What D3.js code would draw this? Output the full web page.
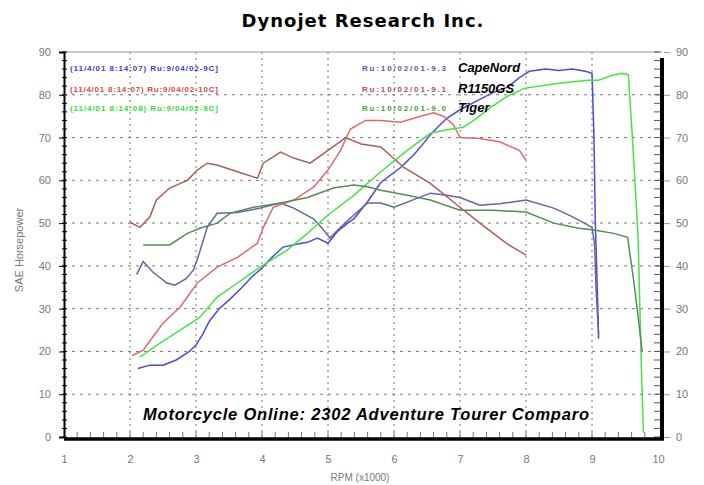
<!DOCTYPE html>
<html>
<head>
<meta charset="utf-8">
<script src="https://cdn.jsdelivr.net/npm/d3@7"></script>
<style>
  body { margin: 0; background: #fff; }
  svg { display: block; font-family: "Liberation Sans", Arial, sans-serif; }
</style>
</head>
<body>
<div class="display"></div>
<script>
// rpm (x1000) / value pairs
const caponordHp = [[2.12,16],[2.3,16.8],[2.5,16.8],[2.7,18],[2.9,20],[3.0,21.5],[3.1,24],[3.2,27],[3.35,30],[3.5,32],[3.7,35],[3.85,37.5],[4.0,39.5],[4.15,42],[4.32,44.4],[4.5,45],[4.69,45.5],[4.84,46.5],[5.0,45.3],[5.14,48],[5.3,50],[5.39,51],[5.6,55],[5.8,59.5],[6.1,63],[6.3,66],[6.45,68.7],[6.6,71.5],[6.8,74.5],[7.0,76.5],[7.27,78.7],[7.5,80.5],[7.72,81.8],[7.9,84],[8.05,85.5],[8.3,86],[8.5,85.7],[8.7,86],[8.9,85.5],[9.0,85],[9.03,70],[9.05,50],[9.08,35],[9.1,23]];
const caponordTq = [[2.1,38],[2.2,41],[2.35,38.5],[2.56,36],[2.68,35.5],[2.85,37],[2.96,39],[3.03,42],[3.1,45.5],[3.17,49],[3.32,52.3],[3.63,52.5],[3.97,53.5],[4.28,54.7],[4.48,53.5],[4.78,51],[4.9,49],[5.03,46.5],[5.19,49],[5.4,52],[5.6,54.7],[5.8,54.7],[6.0,53.7],[6.3,55.5],[6.55,57],[6.8,56.5],[7.0,56],[7.3,54.2],[7.6,54.5],[8.0,55.4],[8.42,53.5],[8.7,51.5],[9.0,49],[9.04,45],[9.06,35],[9.1,24]];
const gsHp = [[2.03,19],[2.2,20.3],[2.35,23.5],[2.5,26.6],[2.76,30.4],[3.02,36],[3.32,39.7],[3.63,42],[3.93,45.3],[4.02,49],[4.17,53.7],[4.48,55.4],[4.78,58.4],[5.0,62.4],[5.19,67],[5.34,72],[5.57,74],[5.8,74],[6.1,73.6],[6.4,75],[6.6,75.8],[6.75,75],[6.9,73],[7.0,70],[7.3,69.8],[7.6,69],[7.9,67],[8.0,64.7]];
const gsTq = [[2.0,50.2],[2.15,49],[2.3,51.4],[2.4,55.4],[2.6,58.2],[2.87,60],[3.02,62.4],[3.17,64],[3.32,63.6],[3.63,62],[3.93,60.5],[4.02,64],[4.28,66.6],[4.48,65.2],[4.73,64],[5.0,67],[5.27,70],[5.5,68.5],[5.8,67.8],[6.15,63],[6.55,59.3],[7.0,53.7],[7.3,50],[7.7,45.3],[8.0,42.5]];
const tigerHp = [[2.15,18.7],[2.46,22],[2.76,25],[3.06,28],[3.32,32.7],[3.63,36],[3.97,39.7],[4.38,43.7],[4.69,47.6],[5.0,51.9],[5.39,56.5],[5.8,62],[6.2,67],[6.55,71],[6.8,71.8],[7.05,72.4],[7.25,74.5],[7.46,77],[7.7,79.5],[7.97,81.5],[8.5,82.7],[8.94,83.4],[9.1,83.4],[9.3,84.5],[9.45,85],[9.55,84.7],[9.6,73],[9.65,60],[9.7,46],[9.75,15],[9.78,1]];
const tigerTq = [[2.2,44.9],[2.6,44.9],[2.87,47.6],[3.06,48.8],[3.32,50],[3.52,52.3],[3.87,53.7],[4.28,54.7],[4.69,56],[5.08,58.2],[5.39,58.9],[5.6,58.5],[5.8,57.7],[6.2,56.5],[6.55,55.4],[7.0,53],[7.5,53],[8.0,52.6],[8.42,50],[8.8,48.8],[9.03,48.4],[9.33,47.6],[9.54,46.7],[9.63,36.7],[9.7,28],[9.76,20]];

const bikes = ['CapeNord', 'R1150GS', 'Tiger'];
const runLabels = ['(11/4/01 8:14:07)  Ru:9/04/02-9C]', '(11/4/01 8:14:07)  Ru:9/04/02-10C]', '(11/4/01 8:14:08)  Ru:9/04/02-9C]'];
const runLabels2 = ['Ru:10/02/01-9.3', 'Ru:10/02/01-9.1', 'Ru:10/02/01-9.0'];
const xTicks = [1, 2, 3, 4, 5, 6, 7, 8, 9, 10];
const yTicks = [0, 10, 20, 30, 40, 50, 60, 70, 80, 90];

const width = 704;
const height = 485;

const series = [
    {data: caponordHp, color: '#4b4bd6'},
    {data: caponordTq, color: '#6464a4'},
    {data: gsHp, color: '#de6a6a'},
    {data: gsTq, color: '#a8605a'},
    {data: tigerHp, color: '#44e444'},
    {data: tigerTq, color: '#568a56'}
];
const legendColors = ['#3c3cd0', '#d84848', '#30e030'];
const legend2Colors = ['#5a5aa8', '#b05050', '#40a040'];

const svg = d3.select('.display')
    .append('svg')
    .attr('width', width)
    .attr('height', height);

const xScale = d3.scaleLinear().domain([1, 10]).range([64, 658]);
const yScale = d3.scaleLinear().domain([0, 90]).range([437, 52]);

// grid
svg.append('g')
    .selectAll('line')
    .data(xTicks.filter(d => d > 1 && d < 10))
    .enter()
    .append('line')
    .attr('x1', d => xScale(d)).attr('x2', d => xScale(d))
    .attr('y1', yScale(90)).attr('y2', yScale(0))
    .attr('stroke', '#777')
    .attr('stroke-dasharray', '2,4');

svg.append('g')
    .selectAll('line')
    .data(yTicks.filter(d => d > 0 && d < 90))
    .enter()
    .append('line')
    .attr('x1', xScale(1)).attr('x2', 662)
    .attr('y1', d => yScale(d)).attr('y2', d => yScale(d))
    .attr('stroke', '#777')
    .attr('stroke-dasharray', '3,5');

// frame
svg.append('line')
    .attr('x1', xScale(1)).attr('x2', 662)
    .attr('y1', yScale(90)).attr('y2', yScale(90))
    .attr('stroke', '#999');

// curves
const line = d3.line().x(d => xScale(d[0])).y(d => yScale(d[1]));
svg.append('g')
    .selectAll('path')
    .data(series)
    .enter()
    .append('path')
    .attr('d', d => line(d.data))
    .attr('fill', 'none')
    .attr('stroke', d => d.color)
    .attr('stroke-width', 1.5);

// axes
const leftAxis = d3.axisLeft(yScale).tickValues(yTicks).tickSize(5).tickPadding(8);
svg.append('g')
    .attr('transform', `translate(${xScale(1)}, 0)`)
    .call(leftAxis)
    .call(g => g.select('.domain').attr('stroke-width', 2))
    .call(g => g.selectAll('text').attr('fill', '#777').attr('font-size', 11));

// minor ticks on left axis
svg.append('g')
    .selectAll('line')
    .data(d3.range(0, 91, 2))
    .enter()
    .append('line')
    .attr('x1', xScale(1) - 2).attr('x2', xScale(1) + 3)
    .attr('y1', d => yScale(d)).attr('y2', d => yScale(d))
    .attr('stroke', '#000');

const rightAxis = d3.axisRight(yScale).tickValues(yTicks).tickSize(6).tickPadding(6);
svg.append('g')
    .attr('transform', 'translate(664, 0)')
    .call(rightAxis)
    .call(g => g.select('.domain').remove())
    .call(g => g.selectAll('line').attr('stroke', '#999'))
    .call(g => g.selectAll('text').attr('fill', '#777').attr('font-size', 11));

svg.append('line')
    .attr('x1', 662).attr('x2', 662)
    .attr('y1', yScale(90) + 6).attr('y2', yScale(0) + 3)
    .attr('stroke', '#000')
    .attr('stroke-width', 4);

// right inner minor ticks
svg.append('g')
    .selectAll('line')
    .data(d3.range(0, 91, 2))
    .enter()
    .append('line')
    .attr('x1', 654).attr('x2', 660)
    .attr('y1', d => yScale(d)).attr('y2', d => yScale(d))
    .attr('stroke', '#555');

const bottomAxis = d3.axisBottom(xScale).tickValues(xTicks).tickSize(0).tickPadding(16);
svg.append('g')
    .attr('transform', `translate(0, ${yScale(0) + 2})`)
    .call(bottomAxis)
    .call(g => g.select('.domain').remove())
    .call(g => g.selectAll('text').attr('fill', '#777').attr('font-size', 11));

svg.append('line')
    .attr('x1', xScale(1)).attr('x2', 664)
    .attr('y1', yScale(0) + 2).attr('y2', yScale(0) + 2)
    .attr('stroke', '#000')
    .attr('stroke-width', 3.5);

// bottom inner minor ticks
svg.append('g')
    .selectAll('line')
    .data(d3.range(1.2, 10, 0.2))
    .enter()
    .append('line')
    .attr('x1', d => xScale(d)).attr('x2', d => xScale(d))
    .attr('y1', yScale(0) - 5).attr('y2', yScale(0))
    .attr('stroke', '#777');

// titles
svg.append('text')
    .attr('x', 363).attr('y', 27)
    .attr('text-anchor', 'middle')
    .attr('font-family', '"DejaVu Sans", sans-serif')
    .attr('font-weight', 'bold')
    .attr('font-size', 18)
    .attr('letter-spacing', 1)
    .text('Dynojet Research Inc.');

svg.append('text')
    .attr('transform', 'translate(23, 250) rotate(-90)')
    .attr('text-anchor', 'middle')
    .attr('fill', '#777')
    .attr('font-size', 11)
    .text('SAE Horsepower');

svg.append('text')
    .attr('x', 360).attr('y', 481)
    .attr('text-anchor', 'middle')
    .attr('fill', '#777')
    .attr('font-size', 10)
    .text('RPM (x1000)');

svg.append('text')
    .attr('x', 366).attr('y', 420)
    .attr('text-anchor', 'middle')
    .attr('font-weight', 'bold')
    .attr('font-style', 'italic')
    .attr('font-size', 16.5)
    .attr('textLength', 446)
    .text('Motorcycle Online: 2302 Adventure Tourer Comparo');

// legend
const legendY = [71, 92, 111];
svg.append('g')
    .selectAll('text')
    .data(runLabels)
    .enter()
    .append('text')
    .attr('x', 70).attr('y', (d, i) => legendY[i])
    .attr('fill', (d, i) => legendColors[i])
    .attr('font-size', 8)
    .attr('font-weight', 'bold')
    .attr('textLength', 148)
    .text(d => d);

svg.append('g')
    .selectAll('text')
    .data(runLabels2)
    .enter()
    .append('text')
    .attr('x', 362).attr('y', (d, i) => legendY[i])
    .attr('fill', (d, i) => legend2Colors[i])
    .attr('font-size', 8)
    .attr('font-weight', 'bold')
    .attr('textLength', 84)
    .text(d => d);

svg.append('g')
    .selectAll('text')
    .data(bikes)
    .enter()
    .append('text')
    .attr('x', 458).attr('y', (d, i) => legendY[i] + 1)
    .attr('font-size', 13)
    .attr('font-weight', 'bold')
    .attr('font-style', 'italic')
    .text(d => d);
</script>
</body>
</html>
